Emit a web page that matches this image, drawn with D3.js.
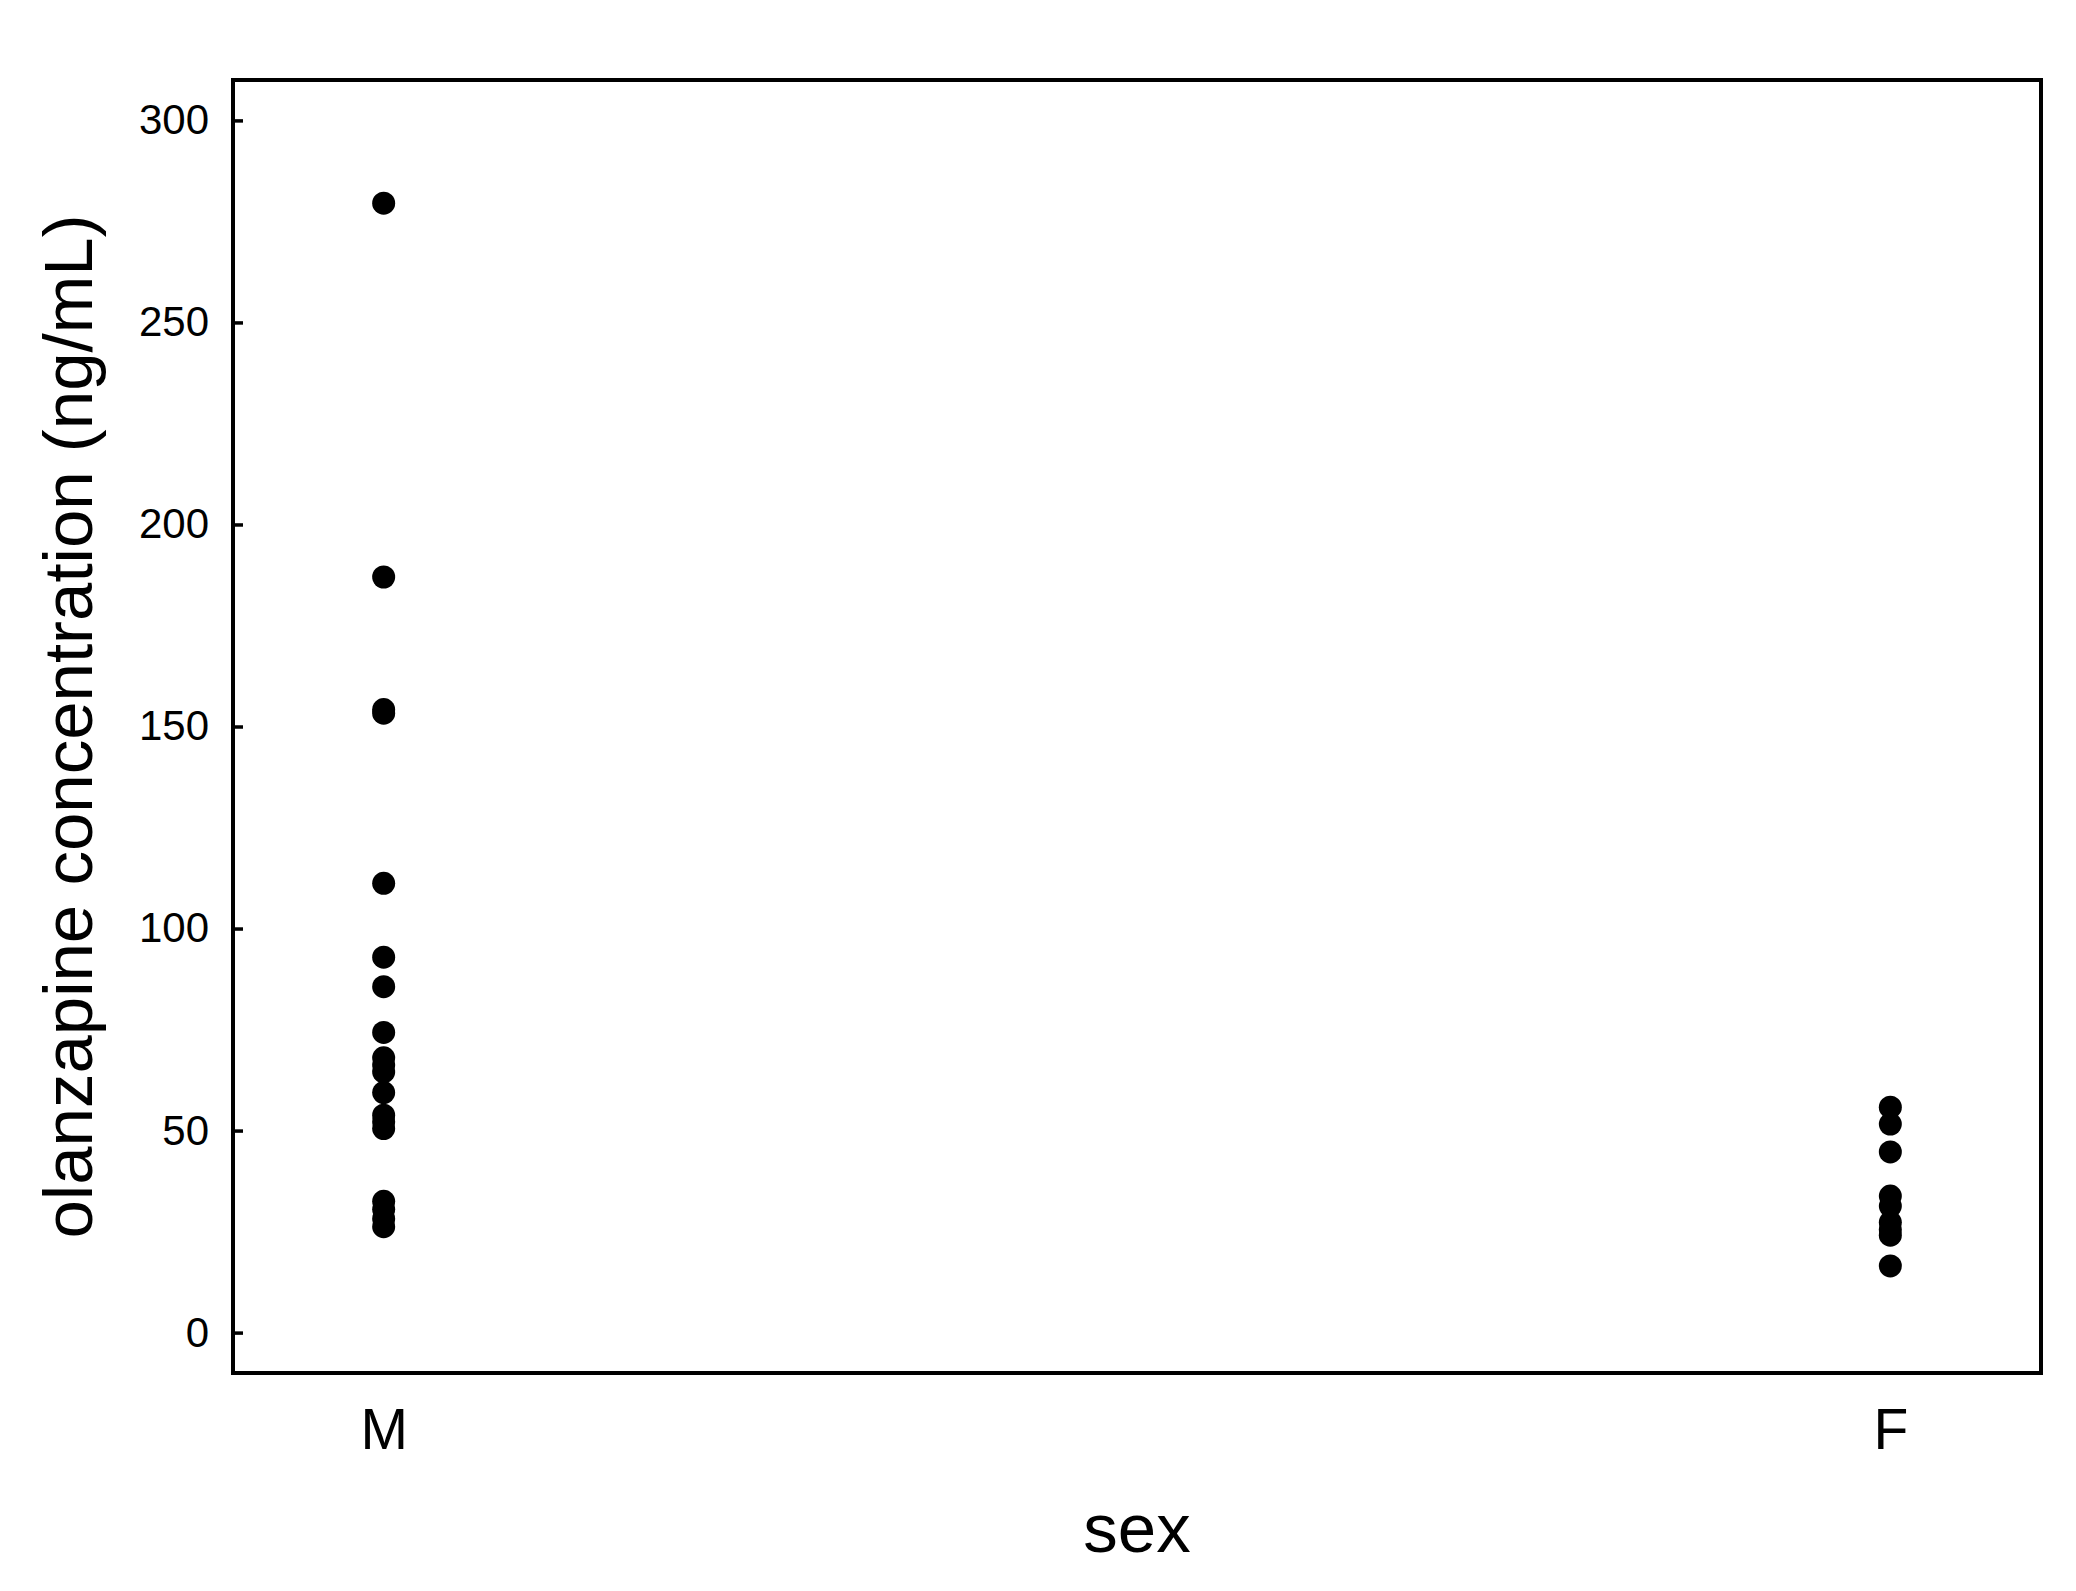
<!DOCTYPE html>
<html lang="en">
<head>
<meta charset="utf-8">
<title>olanzapine by sex</title>
<script src="https://cdn.jsdelivr.net/npm/d3@7/dist/d3.min.js"></script>
<style>
  body { margin: 0; background: #fff; }
  text { font-family: "Liberation Sans", Arial, sans-serif; fill: #000; }
</style>
</head>
<body>
<script>
// values
var categories = ["M", "F"];
var maleValues = [279.5, 187.0, 154.2, 153.3, 111.2, 92.9, 85.6, 74.3, 68.0, 66.2, 64.5,
                  59.4, 53.8, 52.2, 50.5, 32.5, 30.5, 28.2, 26.2];
var femaleValues = [55.8, 51.6, 44.7, 33.8, 31.3, 27.3, 25.5, 24.1, 16.5];
var yTicks = [0, 50, 100, 150, 200, 250, 300];

var width = 2076, height = 1591;
// plot frame (note: "top" is reserved on window, so use other names)
var plotLeft = 233, plotRight = 2041, plotTop = 80, plotBottom = 1373;

var svg = d3.select("body").append("svg")
    .attr("width", width)
    .attr("height", height);

var x = d3.scalePoint()
    .domain(categories)
    .range([plotLeft, plotRight])
    .padding(0.1);

var y = d3.scaleLinear()
    .domain([-10, 310])
    .range([plotBottom, plotTop]);

var points = [];
maleValues.forEach(function(v) { points.push({ sex: "M", value: v }); });
femaleValues.forEach(function(v) { points.push({ sex: "F", value: v }); });

// left axis, ticks pointing inward
var yAxis = svg.append("g")
    .attr("transform", "translate(" + plotLeft + ",0)")
    .call(d3.axisLeft(y).tickValues(yTicks).tickSizeInner(-10).tickSizeOuter(0).tickPadding(24));
yAxis.select(".domain").remove();
yAxis.selectAll(".tick line").attr("stroke", "#000").attr("stroke-width", 3.5);
yAxis.selectAll(".tick text")
    .style("font-size", "42px")
    .style("font-family", "'Liberation Sans', Arial, sans-serif");

// category labels
var xAxis = svg.append("g")
    .attr("transform", "translate(0," + plotBottom + ")")
    .call(d3.axisBottom(x).tickSize(0).tickPadding(36));
xAxis.select(".domain").remove();
xAxis.selectAll(".tick text")
    .style("font-size", "57px")
    .style("font-family", "'Liberation Sans', Arial, sans-serif");

// frame
svg.append("rect")
    .attr("x", plotLeft)
    .attr("y", plotTop)
    .attr("width", plotRight - plotLeft)
    .attr("height", plotBottom - plotTop)
    .attr("fill", "none")
    .attr("stroke", "#000")
    .attr("stroke-width", 4);

svg.selectAll("circle.pt").data(points)
    .enter()
    .append("circle")
    .attr("class", "pt")
    .attr("cx", function(d) { return x(d.sex); })
    .attr("cy", function(d) { return y(d.value); })
    .attr("r", 11.5)
    .attr("fill", "#000");

// axis titles
svg.append("text")
    .attr("x", (plotLeft + plotRight) / 2)
    .attr("y", 1552)
    .attr("text-anchor", "middle")
    .style("font-size", "69px")
    .text("sex");

svg.append("text")
    .attr("transform", "translate(92," + (plotTop + plotBottom) / 2 + ") rotate(-90)")
    .attr("text-anchor", "middle")
    .style("font-size", "69px")
    .text("olanzapine concentration (ng/mL)");
</script>
</body>
</html>
